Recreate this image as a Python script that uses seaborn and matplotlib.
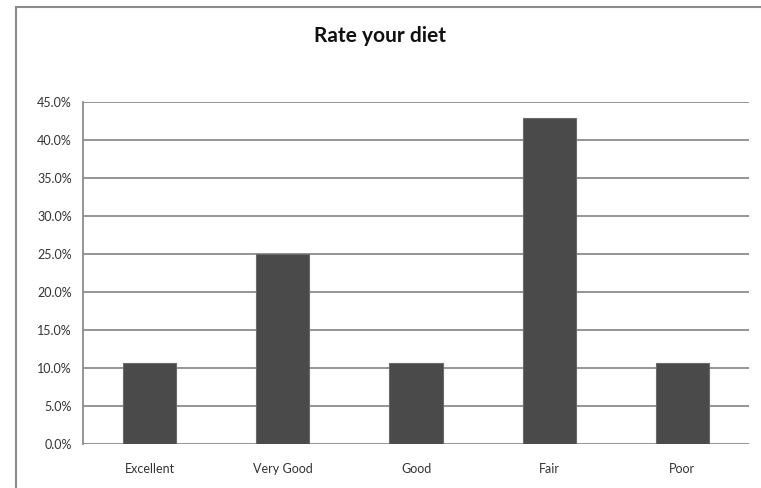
import matplotlib
matplotlib.use("Agg")
import matplotlib.pyplot as plt
from matplotlib.patches import Rectangle
from matplotlib.ticker import PercentFormatter
import seaborn as sns
import pandas as pd

categories = ["Excellent", "Very Good", "Good", "Fair", "Poor"]
shares = [3 / 28, 7 / 28, 3 / 28, 12 / 28, 3 / 28]
y_ticks = [0.0, 0.05, 0.10, 0.15, 0.20, 0.25, 0.30, 0.35, 0.40, 0.45]

df = pd.DataFrame({"rating": categories, "share": shares})

sns.set_theme(style="white")
plt.rcParams["font.family"] = ["Lato", "DejaVu Sans"]

fig = plt.figure(figsize=(7.61, 4.88), dpi=100)
ax = fig.add_axes([83 / 761, 1 - 444 / 488, (749 - 83) / 761, (444 - 102) / 488])

sns.barplot(data=df, x="rating", y="share", color="#4a4a4a", width=0.4,
            saturation=1, edgecolor="#6a6a6a", linewidth=0.8, ax=ax, zorder=3)

ax.set_ylim(0, 0.45)
ax.set_yticks(y_ticks)
ax.yaxis.set_major_formatter(PercentFormatter(xmax=1, decimals=1))
ax.grid(axis="y", color="#8c8c8c", linewidth=1.3, zorder=0)
ax.set_axisbelow(True)
ax.set_xlabel("")
ax.set_ylabel("")
for side in ["top", "right", "bottom"]:
    ax.spines[side].set_visible(False)
ax.spines["left"].set_color("#8c8c8c")
ax.spines["left"].set_linewidth(1.3)
ax.tick_params(axis="both", length=0, labelsize=9, colors="#333333")
ax.tick_params(axis="x", pad=14)
ax.tick_params(axis="y", pad=8)

fig.text(380 / 761, 1 - 36 / 488, "Rate your diet", ha="center", va="center",
         fontsize=15, fontweight="bold", color="#111111")

# chart border running off the right and bottom edges
fig.patches.append(Rectangle((16 / 761, -0.1), 1.2, 1 - 7 / 488 + 0.1,
                             transform=fig.transFigure, fill=False,
                             edgecolor="#8a8a8a", linewidth=1.5))

fig.savefig("out.png", dpi=100, facecolor="white")
